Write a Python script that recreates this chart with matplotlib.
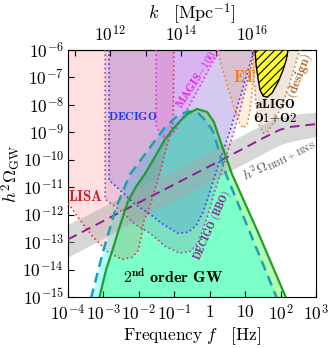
import numpy as np
import matplotlib
matplotlib.use('Agg')
import matplotlib.pyplot as plt
from matplotlib.ticker import FixedLocator, FuncFormatter, NullFormatter, NullLocator

plt.rcParams['mathtext.fontset'] = 'cm'
plt.rcParams['font.family'] = 'serif'
plt.rcParams['hatch.linewidth'] = 0.8

# all curves: log10(f / Hz) and log10(h^2 Omega_GW)
gw2_logf = [-3.12, -2.93, -2.73, -2.53, -2.31, -2.08, -1.82, -1.54, -1.26, -0.92, -0.64, -0.36,
            -0.07, 0.12, 0.32, 0.63, 1.40, 2.16]
gw2_logo = [-15.05, -14.03, -13.23, -12.39, -11.52, -10.98, -10.50, -9.88, -9.25, -8.70, -8.34, -8.15,
            -8.26, -8.63, -9.39, -10.53, -12.75, -15.05]

gwd_logf = [-3.35, -3.01, -2.64, -2.25, -1.74, -1.26, -0.92, -0.61, -0.33, -0.07, 0.10, 0.27, 0.46, 1.90]
gwd_logo = [-15.05, -13.34, -11.73, -10.53, -9.65, -8.81, -8.41, -8.23, -8.30, -8.63, -8.99, -9.72, -10.53, -15.05]

lisa_logf = [-4.0, -3.66, -3.29, -2.87, -2.47, -2.19, -2.02, -1.94, -1.85, -1.68, -1.40, -1.03, -1.01]
lisa_logo = [-11.58, -12.20, -12.82, -13.37, -13.63, -13.55, -13.30, -12.86, -12.20, -11.66, -10.45, -8.63, -6.0]

decigo_logf = [-2.84, -2.84, -2.53, -2.11, -1.68, -1.32, -0.89, -0.61, -0.38, -0.19, -0.07, 0.21, 0.58, 0.92, 1.25]
decigo_logo = [-6.0, -10.74, -11.11, -11.62, -11.99, -12.35, -12.68, -12.64, -12.39, -11.91, -11.47, -10.31,
               -8.92, -7.46, -6.0]

bbo_logf = [-2.95, -2.95, -2.53, -2.11, -1.68, -1.26, -0.84, -0.55, -0.33, -0.07, 0.15, 0.44, 0.86, 1.28]
bbo_logo = [-6.0, -11.44, -11.84, -12.35, -12.68, -13.15, -13.41, -13.34, -13.04, -12.09, -11.11, -10.01, -8.19, -6.0]

magis_logf = [-1.51, -1.51, -1.40, -1.23, -1.03, -0.84, -0.55, -0.27, 0.01, 0.27]
magis_logo = [-6.0, -8.74, -9.07, -9.21, -9.03, -8.63, -7.97, -7.31, -6.62, -6.0]

et_logf = [0.21, 0.35, 0.52, 0.69, 0.83, 0.94, 1.06, 1.14, 1.20, 1.25, 1.31]
et_logo = [-6.0, -6.66, -7.39, -8.12, -8.63, -8.85, -8.70, -8.19, -7.46, -6.73, -6.0]

design_logf = [1.20, 1.25, 1.31, 1.40, 1.51, 1.65, 1.85, 2.07, 2.27, 2.44, 2.55]
design_logo = [-6.0, -7.09, -8.01, -8.74, -9.03, -8.96, -8.55, -7.93, -7.17, -6.44, -6.0]

o1o2_logf = [1.28, 1.31, 1.37, 1.42, 1.51, 1.62, 1.76, 1.93, 2.07, 2.16, 2.21]
o1o2_logo = [-6.0, -6.55, -7.09, -7.46, -7.68, -7.72, -7.57, -7.17, -6.73, -6.36, -6.0]

bbh_logf = [-4.0, -3.0, -2.0, -1.0, 0.0, 1.0, 1.48, 1.78, 2.0, 2.3, 3.0]
bbh_mid = [-12.90, -12.23, -11.56, -10.90, -10.23, -9.56, -9.23, -9.03, -8.90, -8.80, -8.70]
bbh_hi = [-12.35, -11.70, -11.02, -10.37, -9.71, -9.05, -8.73, -8.54, -8.43, -8.35, -8.27]
bbh_lo = [-13.55, -12.86, -12.17, -11.48, -10.80, -10.12, -9.79, -9.58, -9.45, -9.33, -9.15]

K_TO_F = 1.546e-15  # f [Hz] per k [Mpc^-1]


def arr(lf, lo):
    return 10 ** np.array(lf), 10 ** np.array(lo)


fig = plt.figure(figsize=(3.29, 3.48), dpi=100)
ax = fig.add_axes([0.2067, 0.1466, 0.7538, 0.7098])
ax.set_xscale('log')
ax.set_yscale('log')
ax.set_xlim(1e-4, 1e3)
ax.set_ylim(1e-15, 1e-6)

# second order GW signals
f, o = arr(gw2_logf, gw2_logo)
ax.fill_between(f, o, 1e-16, color='#00ff00', alpha=0.3, lw=0, zorder=1)
f2, o2 = arr(gwd_logf, gwd_logo)
ax.fill_between(f2, o2, 1e-16, color='#00ffff', alpha=0.3, lw=0, zorder=1.1)

# detector sensitivity regions
detectors = [
    (lisa_logf, lisa_logo, '#ff0000', '#ee3344', 0.12),
    (bbo_logf, bbo_logo, '#800080', '#a04aa8', 0.12),
    (decigo_logf, decigo_logo, '#0000ff', '#3344ee', 0.10),
    (magis_logf, magis_logo, '#ff00ff', '#e030e0', 0.10),
    (et_logf, et_logo, '#ff8c1a', '#f08a30', 0.14),
    (design_logf, design_logo, '#c89060', '#c08a55', 0.22),
]
for lf, lo, fc, lc, a in detectors:
    x, y = arr(lf, lo)
    if lf[0] <= -4.0:
        px = np.concatenate([x, [1e-4]])
        py = np.concatenate([y, [1e-6]])
    else:
        px, py = x, y
    ax.fill(px, py, facecolor=fc, alpha=a, lw=0, zorder=2)
    ax.plot(x, y, ls=':', color=lc, lw=1.2, zorder=3)

# BBH + BNS background
xb = 10 ** np.array(bbh_logf)
ax.fill_between(xb, 10 ** np.array(bbh_lo), 10 ** np.array(bbh_hi), color='#a8a8a8', alpha=0.45, lw=0, zorder=2.5)
ax.plot(xb, 10 ** np.array(bbh_mid), ls=(0, (5, 3)), color='#8e1f8e', lw=1.4, zorder=3.5)

# signal lines
ax.plot(f2, o2, ls=(0, (4, 2.5)), color='#1fa0b0', lw=1.8, zorder=4)
ax.plot(f, o, color='#1e9e2c', lw=1.6, zorder=4.1)

# aLIGO O1+O2
x, y = arr(o1o2_logf, o1o2_logo)
ax.fill(x, y, facecolor='#ffff33', edgecolor='black', hatch='////', lw=1.0, zorder=5)

# labels
tk = dict(zorder=6, ha='center', va='center')
ax.text(3.2e-4, 10 ** -11.33, r'$\mathbf{LISA}$', color='#cc1f2a', fontsize=10.5, **tk)
ax.text(6.5e-3, 10 ** -8.41, r'$\mathbf{DECIGO}$', color='#2233ee', fontsize=8.5, **tk)
ax.text(0.42, 10 ** -7.06, r'$\mathbf{MAGIS\!-\!100}$', color='#e020e0', fontsize=8, rotation=57, **tk)
ax.text(10, 10 ** -6.99, r'$\mathbf{ET}$', color='#f07f1a', fontsize=12, **tk)
ax.text(71, 10 ** -8.25, r'$\mathbf{aLIGO}$' + '\n' + r'$\mathbf{O1\!+\!O2}$', color='black',
        fontsize=9.3, linespacing=1.0, **tk)
ax.text(340, 10 ** -6.95, r'$\mathbf{(design)}$', color='#b06a2a', fontsize=9.5, rotation=69, **tk)
ax.text(91, 10 ** -10.0, r'$h^2\Omega_{\rm BBH+BNS}$', color='#555555', fontsize=10, rotation=27, **tk)
ax.text(1.15, 10 ** -12.4, r'$\mathbf{DECIGO\ (BBO)}$', color='#8b1a8b', fontsize=7.3, rotation=66, **tk)
ax.text(0.094, 10 ** -14.28, r'$\mathbf{2^{nd}\ order\ GW}$', color='black', fontsize=11.5, **tk)


def fmt(v, pos):
    e = int(round(np.log10(v)))
    if e == 0:
        return r'$1$'
    if e == 1:
        return r'$10$'
    return r'$10^{%d}$' % e


ax.xaxis.set_major_locator(FixedLocator([10.0 ** e for e in range(-4, 4)]))
ax.yaxis.set_major_locator(FixedLocator([10.0 ** e for e in range(-15, -5)]))
ax.xaxis.set_minor_locator(NullLocator())
ax.yaxis.set_minor_locator(NullLocator())
ax.xaxis.set_major_formatter(FuncFormatter(fmt))
ax.yaxis.set_major_formatter(FuncFormatter(fmt))
ax.tick_params(which='both', direction='in', length=4, width=0.8, labelsize=12.5)
ax.tick_params(axis='x', pad=5)
ax.tick_params(axis='y', pad=3)

sec = ax.secondary_xaxis('top', functions=(lambda v: v / K_TO_F, lambda v: v * K_TO_F))
sec.xaxis.set_major_locator(FixedLocator([1e12, 1e14, 1e16]))
sec.xaxis.set_minor_locator(FixedLocator([1e11, 1e13, 1e15, 1e17]))
sec.xaxis.set_major_formatter(FuncFormatter(fmt))
sec.xaxis.set_minor_formatter(NullFormatter())
sec.tick_params(which='both', direction='in', length=4, width=0.8, labelsize=12.5, pad=3)
sec.set_xlabel(r'$k\quad[\mathrm{Mpc}^{-1}]$', fontsize=13, labelpad=4)

ax.set_xlabel(r'$\mathrm{Frequency}\ f\quad[\mathrm{Hz}]$', fontsize=12.5)
ax.set_ylabel(r'$h^2\Omega_{\rm GW}$', fontsize=13)
ax.xaxis.set_label_coords(0.5, -0.115)
ax.yaxis.set_label_coords(-0.18, 0.5)

fig.savefig('out.png', dpi=100)
